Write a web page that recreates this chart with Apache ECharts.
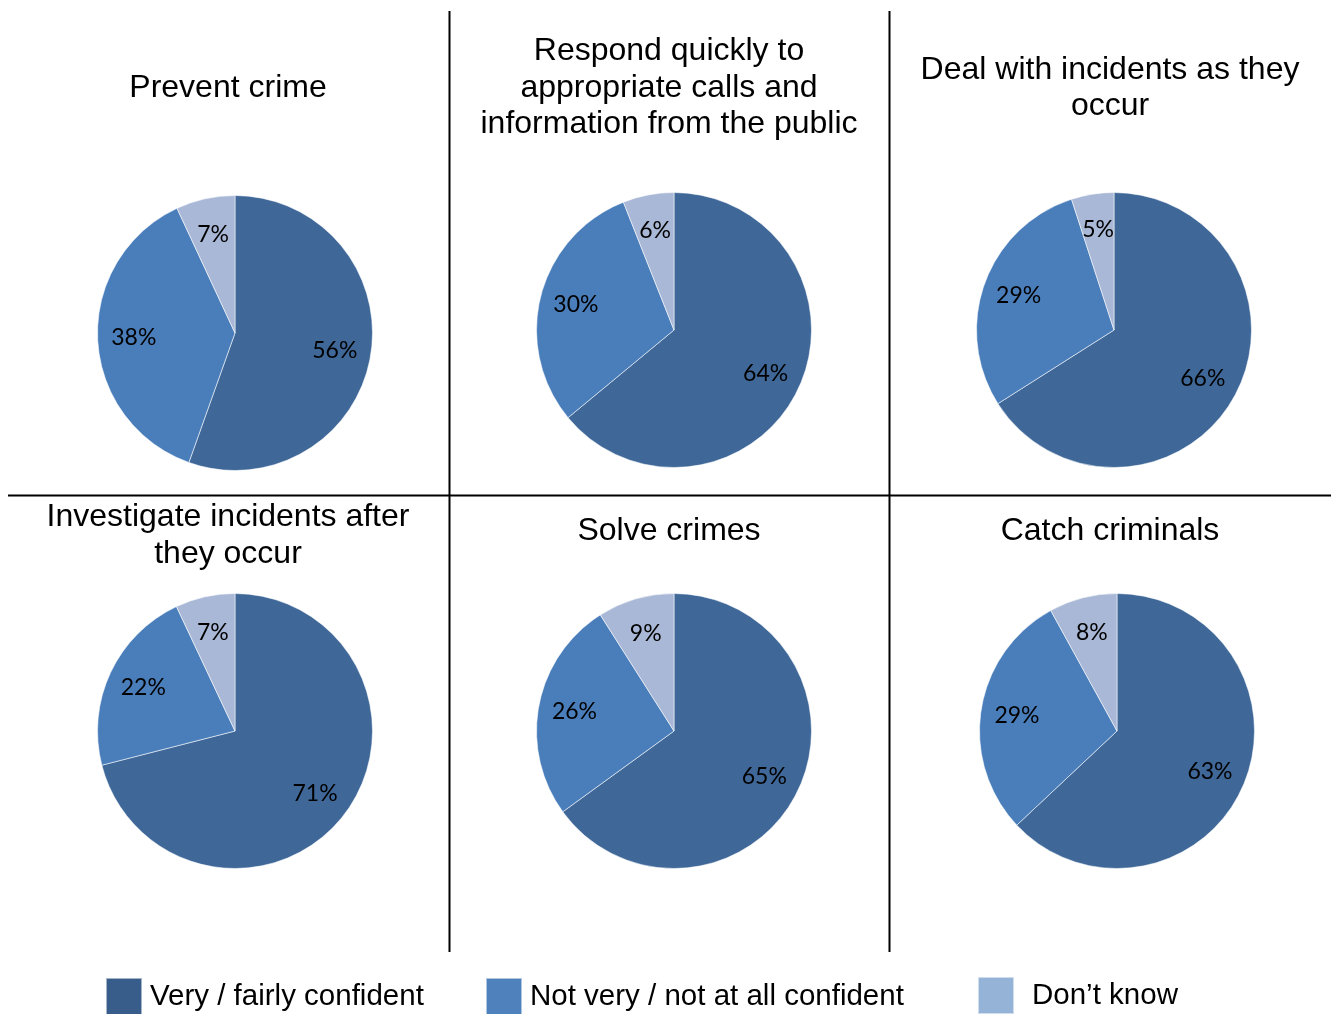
<!DOCTYPE html>
<html>
<head>
<meta charset="utf-8">
<title>Confidence in the police</title>
<script src="https://cdn.jsdelivr.net/npm/echarts@6/dist/echarts.min.js"></script>
<style>
  html, body { margin: 0; padding: 0; background: #fff; }
  #chart { width: 1334px; height: 1014px; }
</style>
</head>
<body>
<div id="chart"></div>
<script>
// Response categories (slice order, clockwise from 12 o'clock)
const categories = ['Very / fairly confident', 'Not very / not at all confident', 'Don\u2019t know'];

// One panel per police function
const panelTitles = [
  'Prevent crime',
  'Respond quickly to\nappropriate calls and\ninformation from the public',
  'Deal with incidents as they\noccur',
  'Investigate incidents after\nthey occur',
  'Solve crimes',
  'Catch criminals'
];

// Percentages for each panel
const veryConfident = [56, 64, 66, 71, 65, 63];
const notConfident  = [38, 30, 29, 22, 26, 29];
const dontKnow      = [7, 6, 5, 7, 9, 8];

// Panel geometry
const pieCenters = [[235, 333], [674, 330], [1114, 330], [235, 731], [674, 731], [1117, 731]];
const titleCenters = [[228, 88], [669, 88], [1110, 88], [228, 535.5], [669, 531], [1110, 531]];
const R = 137.5;

const sliceColors = ['#3F6899', '#4A7EBB', '#A9B8D6'];
const legendColors = ['#385D8A', '#4F81BD', '#95B3D7'];

function panelData(i) {
  const vals = [veryConfident[i], notConfident[i], dontKnow[i]];
  return categories.map((name, k) => ({ name, value: vals[k], itemStyle: { color: sliceColors[k] } }));
}

const series = [];
panelTitles.forEach((t, i) => {
  // filled slices
  series.push({
    type: 'pie',
    center: pieCenters[i],
    radius: [0, R],
    startAngle: 90,
    clockwise: true,
    animation: false,
    silent: true,
    label: { show: false },
    labelLine: { show: false },
    itemStyle: { borderColor: 'rgba(255,255,255,0.55)', borderWidth: 1 },
    data: panelData(i)
  });
  // percentage labels, set a little further out than the slice midpoint
  series.push({
    type: 'pie',
    center: pieCenters[i],
    radius: [R * 0.43, R],
    startAngle: 90,
    clockwise: true,
    animation: false,
    silent: true,
    itemStyle: { color: 'transparent', borderWidth: 0 },
    label: {
      show: true,
      position: 'inside',
      formatter: '{c}%',
      fontFamily: 'Lato, "Open Sans", sans-serif',
      fontSize: 23,
      color: '#000'
    },
    labelLine: { show: false },
    data: panelData(i).map(d => ({ name: d.name, value: d.value, itemStyle: { color: 'transparent' } }))
  });
});

const graphic = [];
// panel dividers
graphic.push({ type: 'line', shape: { x1: 449.5, y1: 11, x2: 449.5, y2: 952 }, style: { stroke: '#000', lineWidth: 2 } });
graphic.push({ type: 'line', shape: { x1: 889.5, y1: 11, x2: 889.5, y2: 952 }, style: { stroke: '#000', lineWidth: 2 } });
graphic.push({ type: 'line', shape: { x1: 8, y1: 495.5, x2: 1331, y2: 495.5 }, style: { stroke: '#000', lineWidth: 2 } });
// panel titles
panelTitles.forEach((t, i) => {
  graphic.push({
    type: 'text',
    x: titleCenters[i][0],
    y: titleCenters[i][1],
    style: {
      text: t,
      align: 'center',
      verticalAlign: 'middle',
      fontFamily: '"Liberation Sans", Arial, sans-serif',
      fontSize: 32,
      lineHeight: 36.5,
      fill: '#000'
    }
  });
});

const legendLefts = [105, 485, 977];
const legendTops = [977, 977, 976];
const legend = categories.map((name, k) => ({
  data: [{ name, itemStyle: { color: legendColors[k] } }],
  left: legendLefts[k],
  top: legendTops[k],
  padding: 0,
  icon: 'rect',
  itemWidth: 36,
  itemHeight: 37,
  selectedMode: false,
  textStyle: {
    fontFamily: '"Liberation Sans", Arial, sans-serif',
    fontSize: 29.5,
    color: '#000',
    padding: [0, 0, k === 2 ? 6 : 0, k === 2 ? 13 : 3]
  }
}));

const chart = echarts.init(document.getElementById('chart'), null, { renderer: 'canvas' });
chart.setOption({
  backgroundColor: '#fff',
  animation: false,
  legend,
  graphic,
  series
});
</script>
</body>
</html>
